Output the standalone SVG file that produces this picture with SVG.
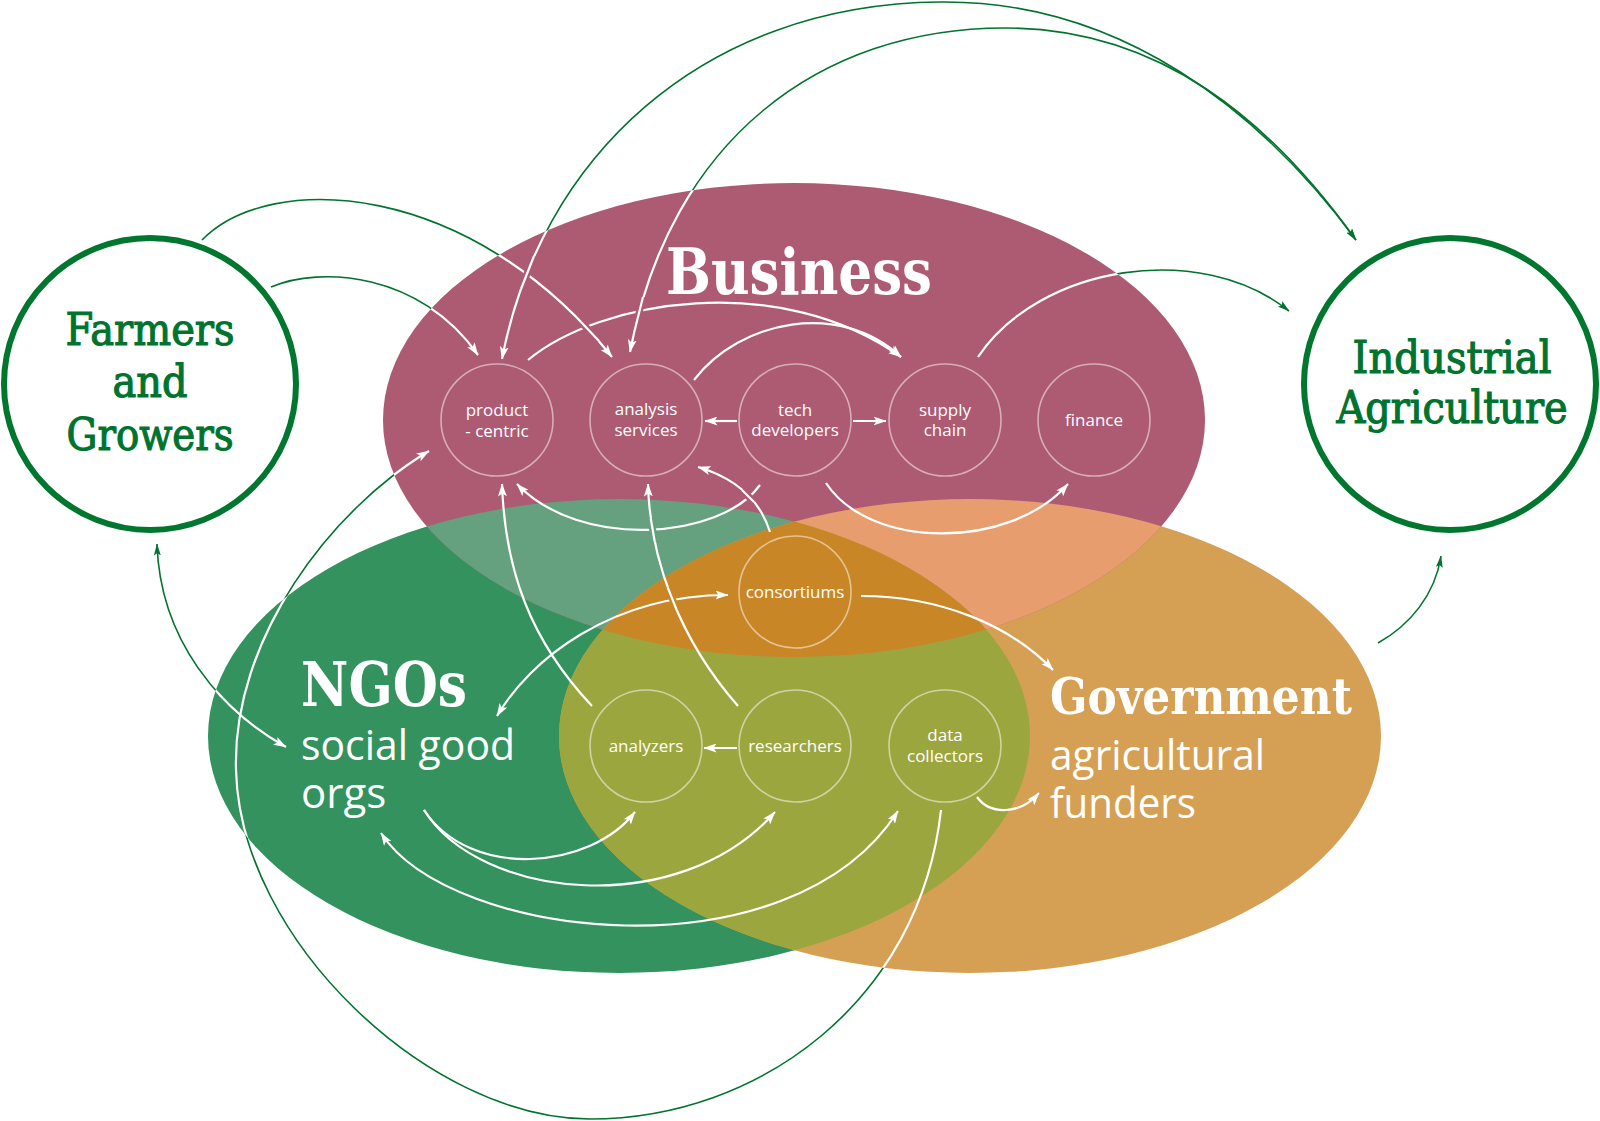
<svg xmlns="http://www.w3.org/2000/svg" xmlns:xlink="http://www.w3.org/1999/xlink" width="1600" height="1121" viewBox="0 0 1600 1121">
  <style>
    .slab { font-family: "DejaVu Serif Condensed", "DejaVu Serif", serif; font-weight: bold; }
    .slab-m { font-family: "DejaVu Serif Condensed", "DejaVu Serif", serif; font-weight: normal; stroke: #00732e; stroke-width: 1.1; }
    .sans { font-family: "Open Sans", "Noto Sans", sans-serif; }
    .green { fill: #00732e; }
    .ring { fill: #fff; stroke: #00762f; stroke-width: 6; }
    .node circle { fill: none; stroke: rgba(255,255,255,0.5); stroke-width: 1.6; }
    .node text { fill: #fff; font-size: 17px; text-anchor: middle; }
    .big { fill: #fff; }
    .outside use { stroke: #00732e; stroke-width: 1.6; }
    .inside use { stroke: #fff; stroke-width: 2.2; }
    .outside .e, .outside .b { marker-end: url(#ag); }
    .outside .s, .outside .b { marker-start: url(#ag); }
    .inside .e, .inside .b { marker-end: url(#aw); }
    .inside .s, .inside .b { marker-start: url(#aw); }
    .bridge path { fill: none; stroke-width: 7; stroke-linecap: butt; }
    .bridge path.top { stroke: #fff; stroke-width: 2.2; }
  </style>
  <defs>
    <marker id="aw" viewBox="0 0 13 9" refX="12.5" refY="4.5" markerWidth="13" markerHeight="9" markerUnits="userSpaceOnUse" orient="auto-start-reverse">
      <path d="M0,0 L13,4.5 L0,9 L3,4.5 z" fill="#fff"/>
    </marker>
    <marker id="ag" viewBox="0 0 12 7" refX="11.5" refY="3.5" markerWidth="12" markerHeight="7" markerUnits="userSpaceOnUse" orient="auto-start-reverse">
      <path d="M0,0 L12,3.5 L0,7 L2.5,3.5 z" fill="#00732e"/>
    </marker>
    <ellipse id="eBus" cx="794" cy="420" rx="411" ry="237"/>
    <ellipse id="eNgo" cx="619" cy="736" rx="411" ry="237"/>
    <ellipse id="eGov" cx="970" cy="736" rx="411" ry="237"/>
    <clipPath id="cpBus"><use xlink:href="#eBus"/></clipPath>
    <clipPath id="cpNgo"><use xlink:href="#eNgo"/></clipPath>
    <clipPath id="cpGov"><use xlink:href="#eGov"/></clipPath>
    <clipPath id="inside">
      <use xlink:href="#eBus"/><use xlink:href="#eNgo"/><use xlink:href="#eGov"/>
    </clipPath>
    <mask id="outsideMask" maskUnits="userSpaceOnUse" x="0" y="0" width="1600" height="1121">
      <rect x="0" y="0" width="1600" height="1121" fill="#fff"/>
      <use xlink:href="#eBus" fill="#000"/><use xlink:href="#eNgo" fill="#000"/><use xlink:href="#eGov" fill="#000"/>
    </mask>
    <!-- connector geometry, drawn green outside the sectors and white inside -->
    <g fill="none">
      <path id="k1" d="M202,240 C270,170 470,180 612,357"/>
      <path id="k2" d="M271,287 C320,266 420,272 478,355"/>
      <path id="k3" d="M502,359 C540,160 700,4 940,2 C1120,0 1260,110 1356,240"/>
      <path id="k4" d="M630,352 C670,140 820,28 1005,28 C1160,28 1270,120 1356,240"/>
      <path id="k5" d="M978,357 C1040,265 1200,240 1289,311"/>
      <path id="k6" d="M157,544 C160,640 220,710 286,747"/>
      <path id="k7" d="M941,810 C920,1000 760,1119 590,1119 C430,1119 240,940 236,770 C232,640 330,510 429,451"/>
      <path id="k8" d="M1378,643 C1410,625 1435,595 1441,556"/>
      <path id="k9" d="M528,360 C600,300 780,270 901,357"/>
      <path id="k10" d="M694,380 C740,320 840,300 901,357"/>
      <path id="k11" d="M737,421 L705,421"/>
      <path id="k12" d="M853,421 L886,421"/>
      <path id="k13" d="M760,485 C720,540 580,550 517,484"/>
      <path id="k14" d="M770,532 C760,500 735,478 698,467"/>
      <path id="k15" d="M826,483 C870,550 1010,550 1068,484"/>
      <path id="k16" d="M738,706 C680,640 650,560 648,484"/>
      <path id="k17" d="M592,706 C530,640 505,570 502,484"/>
      <path id="k18" d="M737,748 L704,748"/>
      <path id="k19" d="M497,716 C530,660 610,595 728,595"/>
      <path id="k20" d="M861,596 C940,596 1010,625 1053,670"/>
      <path id="k21" d="M977,797 C990,815 1020,815 1039,793"/>
      <path id="k22" d="M424,810 C470,880 590,870 635,812"/>
      <path id="k23" d="M424,810 C480,900 680,920 775,812"/>
      <path id="k24" d="M381,833 C450,940 790,980 898,811"/>
    </g>
  </defs>

  <rect x="0" y="0" width="1600" height="1121" fill="#fff"/>

  <!-- sectors -->
  <g id="ngos">
    <use xlink:href="#eNgo" fill="#33925d"/>
  </g>
  <g id="government">
    <use xlink:href="#eGov" fill="#d5a054"/>
  </g>
  <g id="business">
    <use xlink:href="#eBus" fill="#ad5a73"/>
  </g>

  <!-- sector overlaps -->
  <g id="overlaps">
    <g clip-path="url(#cpBus)"><use xlink:href="#eNgo" fill="#65a07f"/></g>
    <g clip-path="url(#cpBus)"><use xlink:href="#eGov" fill="#e79d6d"/></g>
    <g clip-path="url(#cpNgo)"><use xlink:href="#eGov" fill="#9ca63f"/></g>
    <g clip-path="url(#cpNgo)"><g clip-path="url(#cpBus)"><use xlink:href="#eGov" fill="#c98626"/></g></g>
  </g>

  <!-- sector titles -->
  <g id="business-title">
    <text class="slab big" x="666" y="294" font-size="64" textLength="266" lengthAdjust="spacingAndGlyphs">Business</text>
  </g>
  <g id="ngos-title">
    <text class="slab big" x="301" y="706" font-size="62" textLength="166" lengthAdjust="spacingAndGlyphs">NGOs</text>
    <text class="sans big" x="301" y="760" font-size="42" textLength="214" lengthAdjust="spacingAndGlyphs">social good</text>
    <text class="sans big" x="301" y="808" font-size="42">orgs</text>
  </g>
  <g id="government-title">
    <text class="slab big" x="1050" y="714" font-size="51" textLength="302" lengthAdjust="spacingAndGlyphs">Government</text>
    <text class="sans big" x="1050" y="770" font-size="42" textLength="215" lengthAdjust="spacingAndGlyphs">agricultural</text>
    <text class="sans big" x="1050" y="818" font-size="42" textLength="146" lengthAdjust="spacingAndGlyphs">funders</text>
  </g>

  <!-- outer actors -->
  <g id="farmers">
    <circle class="ring" cx="150" cy="384" r="146"/>
    <text class="slab-m green" x="150" y="345" font-size="45" text-anchor="middle" textLength="169" lengthAdjust="spacingAndGlyphs">Farmers</text>
    <text class="slab-m green" x="150" y="397" font-size="45" text-anchor="middle" textLength="75" lengthAdjust="spacingAndGlyphs">and</text>
    <text class="slab-m green" x="150" y="450" font-size="45" text-anchor="middle" textLength="167" lengthAdjust="spacingAndGlyphs">Growers</text>
  </g>
  <g id="industrial">
    <circle class="ring" cx="1450" cy="384" r="146"/>
    <text class="slab-m green" x="1452" y="373" font-size="45" text-anchor="middle" textLength="199" lengthAdjust="spacingAndGlyphs">Industrial</text>
    <text class="slab-m green" x="1452" y="423" font-size="44" text-anchor="middle" textLength="231" lengthAdjust="spacingAndGlyphs">Agriculture</text>
  </g>

  <!-- actor roles -->
  <g id="product-centric" class="node sans">
    <circle cx="497" cy="420" r="56"/>
    <text x="497" y="416">product</text>
    <text x="497" y="437">- centric</text>
  </g>
  <g id="analysis-services" class="node sans">
    <circle cx="646" cy="420" r="56"/>
    <text x="646" y="415">analysis</text>
    <text x="646" y="436">services</text>
  </g>
  <g id="tech-developers" class="node sans">
    <circle cx="795" cy="420" r="56"/>
    <text x="795" y="416">tech</text>
    <text x="795" y="436">developers</text>
  </g>
  <g id="supply-chain" class="node sans">
    <circle cx="945" cy="420" r="56"/>
    <text x="945" y="416">supply</text>
    <text x="945" y="436">chain</text>
  </g>
  <g id="finance" class="node sans">
    <circle cx="1094" cy="420" r="56"/>
    <text x="1094" y="426">finance</text>
  </g>
  <g id="consortiums" class="node sans">
    <circle cx="795" cy="592" r="56"/>
    <text x="795" y="598">consortiums</text>
  </g>
  <g id="analyzers" class="node sans">
    <circle cx="646" cy="746" r="56"/>
    <text x="646" y="752">analyzers</text>
  </g>
  <g id="researchers" class="node sans">
    <circle cx="795" cy="746" r="56"/>
    <text x="795" y="752">researchers</text>
  </g>
  <g id="data-collectors" class="node sans">
    <circle cx="945" cy="746" r="56"/>
    <text x="945" y="741">data</text>
    <text x="945" y="762">collectors</text>
  </g>

  <!-- connectors -->
  <g id="connectors" fill="none">
    <g class="outside" mask="url(#outsideMask)">
      <use xlink:href="#k1" class="e"/><use xlink:href="#k2" class="e"/>
      <use xlink:href="#k3" class="b"/><use xlink:href="#k4" class="b"/>
      <use xlink:href="#k5" class="e"/><use xlink:href="#k6" class="b"/>
      <use xlink:href="#k7" class="e"/><use xlink:href="#k8" class="e"/>
      <use xlink:href="#k9" class="e"/><use xlink:href="#k10" class="e"/>
      <use xlink:href="#k11" class="e"/><use xlink:href="#k12" class="e"/>
      <use xlink:href="#k13" class="e"/><use xlink:href="#k14" class="e"/>
      <use xlink:href="#k15" class="e"/><use xlink:href="#k16" class="e"/>
      <use xlink:href="#k17" class="e"/><use xlink:href="#k18" class="e"/>
      <use xlink:href="#k19" class="b"/><use xlink:href="#k20" class="e"/>
      <use xlink:href="#k21" class="e"/><use xlink:href="#k22" class="e"/>
      <use xlink:href="#k23" class="e"/><use xlink:href="#k24" class="b"/>
    </g>
    <g class="inside" clip-path="url(#inside)">
      <use xlink:href="#k1" class="e"/><use xlink:href="#k2" class="e"/>
      <use xlink:href="#k3" class="b"/><use xlink:href="#k4" class="b"/>
      <use xlink:href="#k5" class="e"/><use xlink:href="#k6" class="b"/>
      <use xlink:href="#k7" class="e"/><use xlink:href="#k8" class="e"/>
      <use xlink:href="#k9" class="e"/><use xlink:href="#k10" class="e"/>
      <use xlink:href="#k11" class="e"/><use xlink:href="#k12" class="e"/>
      <use xlink:href="#k13" class="e"/><use xlink:href="#k14" class="e"/>
      <use xlink:href="#k15" class="e"/><use xlink:href="#k16" class="e"/>
      <use xlink:href="#k17" class="e"/><use xlink:href="#k18" class="e"/>
      <use xlink:href="#k19" class="b"/><use xlink:href="#k20" class="e"/>
      <use xlink:href="#k21" class="e"/><use xlink:href="#k22" class="e"/>
      <use xlink:href="#k23" class="e"/><use xlink:href="#k24" class="b"/>
    </g>
    <!-- line hops: the upper line cuts a small gap in the one it crosses -->
    <g class="bridge">
      <path d="M754,502 L742,490" stroke="#ad5a73"/><path class="top" d="M754,502 L742,490"/>
      <path d="M654.7,541.5 L650.7,518.3" stroke="#65a07f"/><path class="top" d="M654.7,541.5 L650.7,518.3"/>
      <path d="M676.7,610 L667.7,587.3" stroke="#c98626"/><path class="top" d="M676.7,610 L667.7,587.3"/>
      <path d="M521,289 L534,256" stroke="#ad5a73"/><path class="top" d="M521,289 L534,256"/>
      <path d="M581,322 L599,341" stroke="#ad5a73"/><path class="top" d="M581,322 L599,341"/>
      <path d="M634,333 L643,297" stroke="#ad5a73"/><path class="top" d="M634,333 L643,297"/>
    </g>
  </g>
</svg>
